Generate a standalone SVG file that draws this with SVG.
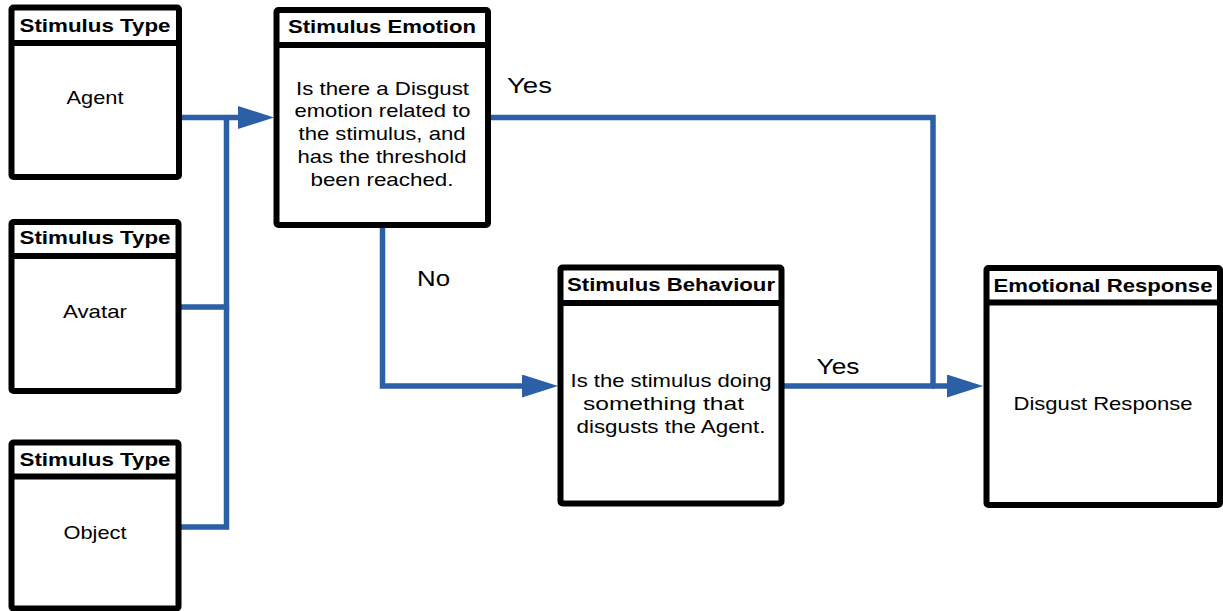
<svg xmlns="http://www.w3.org/2000/svg" width="1223" height="611" viewBox="0 0 1223 611">
  <style>
    .box { fill: #ffffff; stroke: #000000; stroke-width: 6; stroke-linejoin: round; }
    .div { stroke: #000000; stroke-width: 6; }
    .hdr { font-family: "Liberation Sans", Arial, sans-serif; font-weight: bold; font-size: 18px; fill: #000000; text-anchor: middle; }
    .body { font-family: "Liberation Sans", Arial, sans-serif; font-size: 18.5px; fill: #000000; text-anchor: middle; }
    .lbl { font-family: "Liberation Sans", Arial, sans-serif; font-size: 22px; fill: #000000; }
    .wire { fill: none; stroke: #2B5FA6; stroke-width: 5.5; stroke-linecap: round; stroke-linejoin: miter; }
  </style>
  <defs>
    <marker id="arrow" markerUnits="userSpaceOnUse" markerWidth="36" markerHeight="23" refX="1" refY="11.5" orient="auto">
      <path d="M0,0 L36,11.5 L0,23 Z" fill="#2B5FA6"/>
    </marker>
  </defs>

  <rect width="1223" height="611" fill="#ffffff"/>

  <!-- connectors -->
  <g id="connectors">
    <path class="wire" d="M179,117.5 H239" marker-end="url(#arrow)"/>
    <path class="wire" d="M179,527 H226.5 V117.5"/>
    <path class="wire" d="M179,307 H226.5"/>
    <path class="wire" d="M382.5,227 V386 H523" marker-end="url(#arrow)"/>
    <path class="wire" d="M490,117.5 H933 V386"/>
    <path class="wire" d="M784,386 H948" marker-end="url(#arrow)"/>
    <text class="lbl" x="507" y="93" textLength="45" lengthAdjust="spacingAndGlyphs">Yes</text>
    <text class="lbl" x="417" y="286" textLength="33" lengthAdjust="spacingAndGlyphs">No</text>
    <text class="lbl" x="816.5" y="374" textLength="43" lengthAdjust="spacingAndGlyphs">Yes</text>
  </g>

  <!-- stimulus type: agent -->
  <g id="type-agent">
    <rect class="box" x="11.5" y="7.5" width="167.5" height="169.5" rx="2"/>
    <line class="div" x1="11.5" y1="43" x2="179" y2="43"/>
    <text class="hdr" x="95" y="31.5" textLength="151" lengthAdjust="spacingAndGlyphs">Stimulus Type</text>
    <text class="body" x="95" y="104" textLength="57" lengthAdjust="spacingAndGlyphs">Agent</text>
  </g>

  <!-- stimulus type: avatar -->
  <g id="type-avatar">
    <rect class="box" x="11.5" y="222" width="167" height="169" rx="2"/>
    <line class="div" x1="11.5" y1="256" x2="178.5" y2="256"/>
    <text class="hdr" x="95" y="244" textLength="151" lengthAdjust="spacingAndGlyphs">Stimulus Type</text>
    <text class="body" x="95" y="317.5" textLength="64" lengthAdjust="spacingAndGlyphs">Avatar</text>
  </g>

  <!-- stimulus type: object -->
  <g id="type-object">
    <rect class="box" x="11.5" y="442.5" width="167" height="166" rx="2"/>
    <line class="div" x1="11.5" y1="476.5" x2="178.5" y2="476.5"/>
    <text class="hdr" x="95" y="465.5" textLength="151" lengthAdjust="spacingAndGlyphs">Stimulus Type</text>
    <text class="body" x="95" y="539" textLength="63" lengthAdjust="spacingAndGlyphs">Object</text>
  </g>

  <!-- stimulus emotion -->
  <g id="stimulus-emotion">
    <rect class="box" x="276.5" y="10" width="211.5" height="215" rx="2"/>
    <line class="div" x1="276.5" y1="45" x2="488" y2="45"/>
    <text class="hdr" x="382" y="32.5" textLength="188" lengthAdjust="spacingAndGlyphs">Stimulus Emotion</text>
    <text class="body" x="382.5" y="94.5" textLength="173" lengthAdjust="spacingAndGlyphs">Is there a Disgust</text>
    <text class="body" x="382.5" y="117" textLength="176" lengthAdjust="spacingAndGlyphs">emotion related to</text>
    <text class="body" x="382" y="140" textLength="167" lengthAdjust="spacingAndGlyphs">the stimulus, and</text>
    <text class="body" x="382" y="163" textLength="169" lengthAdjust="spacingAndGlyphs">has the threshold</text>
    <text class="body" x="382" y="185.5" textLength="143" lengthAdjust="spacingAndGlyphs">been reached.</text>
  </g>

  <!-- stimulus behaviour -->
  <g id="stimulus-behaviour">
    <rect class="box" x="560.5" y="267.5" width="221" height="236" rx="2"/>
    <line class="div" x1="560.5" y1="303" x2="781.5" y2="303"/>
    <text class="hdr" x="671" y="291" textLength="208" lengthAdjust="spacingAndGlyphs">Stimulus Behaviour</text>
    <text class="body" x="671" y="387" textLength="201" lengthAdjust="spacingAndGlyphs">Is the stimulus doing</text>
    <text class="body" x="663.5" y="409.5" textLength="161" lengthAdjust="spacingAndGlyphs">something that</text>
    <text class="body" x="671" y="433" textLength="189" lengthAdjust="spacingAndGlyphs">disgusts the Agent.</text>
  </g>

  <!-- emotional response -->
  <g id="emotional-response">
    <rect class="box" x="986.5" y="268" width="233.5" height="237" rx="2"/>
    <line class="div" x1="986.5" y1="302.5" x2="1220" y2="302.5"/>
    <text class="hdr" x="1103" y="292" textLength="219" lengthAdjust="spacingAndGlyphs">Emotional Response</text>
    <text class="body" x="1103" y="410" textLength="179" lengthAdjust="spacingAndGlyphs">Disgust Response</text>
  </g>
</svg>
